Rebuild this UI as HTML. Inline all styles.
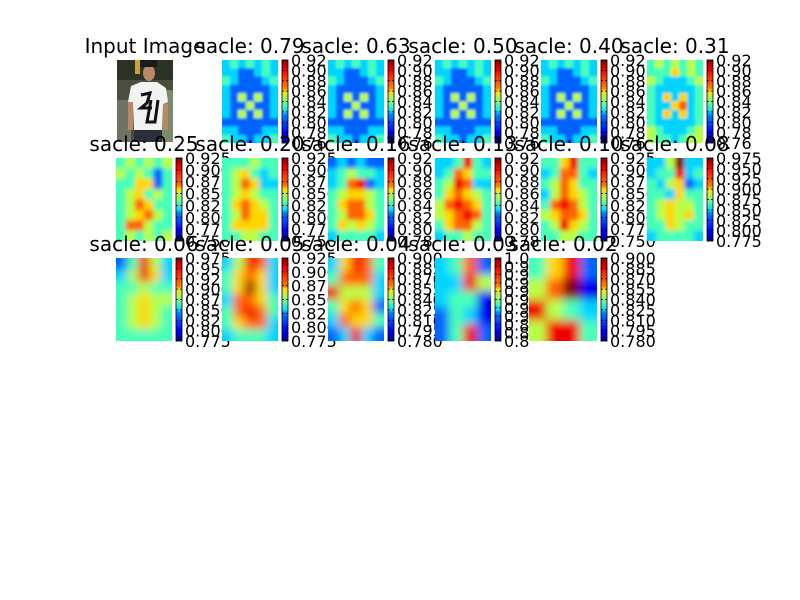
<!DOCTYPE html>
<html><head><meta charset="utf-8"><style>
html,body{margin:0;padding:0;background:#fff;}
svg{display:block;font-family:"DejaVu Sans","Liberation Sans",sans-serif;}
</style></head><body>
<svg id="fig" width="800" height="600" viewBox="0 0 800 600" xmlns="http://www.w3.org/2000/svg">
<defs>
<linearGradient id="jet" x1="0" y1="1" x2="0" y2="0">
<stop offset="0" stop-color="#00007f"/><stop offset="0.11" stop-color="#0000ff"/><stop offset="0.125" stop-color="#0000ff"/>
<stop offset="0.34" stop-color="#0080ff"/><stop offset="0.375" stop-color="#00e0ff"/><stop offset="0.5" stop-color="#7fff7f"/>
<stop offset="0.625" stop-color="#ffe000"/><stop offset="0.66" stop-color="#ff8000"/><stop offset="0.875" stop-color="#ff0000"/><stop offset="1" stop-color="#7f0000"/>
</linearGradient>
<filter id="b1" x="-20%" y="-20%" width="140%" height="140%"><feGaussianBlur stdDeviation="1.2"/></filter>
<filter id="b2" x="-20%" y="-20%" width="140%" height="140%"><feGaussianBlur stdDeviation="2.5"/></filter>
<filter id="b3" x="-20%" y="-20%" width="140%" height="140%"><feGaussianBlur stdDeviation="4.5"/></filter>
</defs>
<g id="input-panel">
<text x="145" y="53" font-size="20" text-anchor="middle">Input Image</text>
<g>
<rect x="117" y="60" width="56" height="82" fill="#4a4e3e"/>
<rect x="117" y="60" width="56" height="20" fill="#2c3226"/>
<rect x="135" y="60" width="5" height="14" fill="#c9a23c"/>
<rect x="117" y="100" width="14" height="42" fill="#707266"/>
<rect x="160" y="90" width="13" height="52" fill="#7a8a6a"/>
<ellipse cx="149" cy="73" rx="6" ry="8" fill="#b98866"/>
<rect x="140" y="60" width="17" height="7" fill="#1a1a18"/>
<path d="M131 86 L141 82 L157 82 L166 88 L168 102 L163 104 L162 130 L134 130 L133 104 L128 102 Z" fill="#f2f2f0"/>
<path d="M141 95 L150 93 L147 103 L141 108 L152 108 M151 100 L147 122 L155 122 L158 100" stroke="#111" stroke-width="3" fill="none"/>
<rect x="128" y="102" width="5" height="28" fill="#b98866"/>
<rect x="163" y="104" width="5" height="26" fill="#b98866"/>
<rect x="134" y="130" width="28" height="12" fill="#2b2f3a"/>
</g>
</g>
<g id="panels"></g>
</svg>
<script>
const titles=["0.79","0.63","0.50","0.40","0.31","0.25","0.20","0.16","0.13","0.10","0.08","0.06","0.05","0.04","0.03","0.02"];
const tickMax=[0.92,0.92,0.92,0.92,0.92,0.925,0.925,0.92,0.92,0.925,0.975,0.975,0.925,0.900,0.960,0.900];
const tickMin=[0.76,0.76,0.76,0.76,0.76,0.750,0.750,0.78,0.78,0.750,0.775,0.775,0.775,0.780,0.810,0.780];
const tickStep=[0.02,0.02,0.02,0.02,0.02,0.025,0.025,0.02,0.02,0.025,0.025,0.025,0.025,0.015,0.015,0.015];
const tickDigits=[2,2,2,2,2,3,3,2,2,3,3,3,3,3,1,3];
const g079=["3434343","3322343","4322234","3222223","3252523","3225223","3252523","2222222","3322233","4332334"];
const g031=["4545454","4446454","5433345","4333334","4363634","4336734","4363634","4333334","5433345","5443455"];
const grids=[g079,g079,g079,g079,g031,
["454545","545424","446624","456454","457644","456754","477544","454545"],
["444544","456434","457633","456544","467654","457664","466664","445544"],
["232322","345443","347823","456654","467754","457764","465654","344443"],
["334843","347644","458733","467654","578764","567874","467754","344544"],
["446844","347743","457644","357654","478754","567764","458654","445544"],
["335933","344834","435623","443644","456554","456564","446544","344443"],
["24853","35863","44544","45655","45654","45654","44444"],
["35873","46763","46963","37764","47874","46773","34443"],
["36874","47773","85553","46762","37664","23832"],
["3472","3385","3441","2431","2482"],
["4682","5791","8543","5884"]];
const NS="http://www.w3.org/2000/svg";
function jet(t){t=Math.max(0,Math.min(1,t));
 const r=Math.min(4*t-1.5,-4*t+4.5),g=Math.min(4*t-0.5,-4*t+3.5),b=Math.min(4*t+0.5,-4*t+2.5);
 const c=v=>Math.round(255*Math.max(0,Math.min(1,v)));return `rgb(${c(r)},${c(g)},${c(b)})`;}
function mk(tag,attrs,parent){const e=document.createElementNS(NS,tag);for(const k in attrs)e.setAttribute(k,attrs[k]);parent.appendChild(e);return e;}
const rowsY=[60,158,258],H=83;
const colsX=[116,222,328,435,541,647];
const root=document.getElementById('panels');
const defs=document.querySelector('defs');
for(let i=0;i<titles.length;i++){
 const slot=i+1,row=Math.floor(slot/6),col=slot%6;
 let x=colsX[col],w=56;const y=rowsY[row];
 if(i===15){x=529;w=68;}
 const g=mk('g',{},root);
 
 
 const cp=mk('clipPath',{id:'cp'+i},defs);mk('rect',{x:x,y:y,width:w,height:H},cp);
 const grid=grids[i],nr=grid.length,nc=grid[0].length;
 const hm=mk('g',{'clip-path':'url(#cp'+i+')'},g);
 
 
 const inner=mk('g',{filter:i<5?'url(#b1)':(i<11?'url(#b2)':'url(#b3)')},hm);
 const cw=w/nc,ch=H/nr;
 for(let r=-1;r<=nr;r++)for(let c=-1;c<=nc;c++){
  const rr=Math.max(0,Math.min(nr-1,r)),cc=Math.max(0,Math.min(nc-1,c));
  const v=+grid[rr][cc]/9;
  const cell=mk('rect',{x:x+c*cw,y:y+r*ch,width:cw+0.5,height:ch+0.5,fill:jet(v)},inner);
  
  
 }
 const t=mk('text',{x:x+w/2,y:y-7,'font-size':20,'text-anchor':'middle'},g);
 t.textContent='sacle: '+titles[i];
 
 
 const bx=x+w+4,bw=6;
 const cb=mk('g',{},g);
 
 
 mk('rect',{x:bx,y:y,width:bw,height:H,fill:'url(#jet)',stroke:'#000','stroke-width':0.8},cb);
 const n=Math.round((tickMax[i]-tickMin[i])/tickStep[i]);
 for(let k=0;k<=n;k++){
  const v=tickMin[i]+k*tickStep[i];
  const ty=y+H-(v-tickMin[i])/(tickMax[i]-tickMin[i])*H;
  mk('line',{x1:bx,x2:bx+2,y1:ty,y2:ty,stroke:'#000','stroke-width':0.8},cb);
  mk('line',{x1:bx+bw-2,x2:bx+bw,y1:ty,y2:ty,stroke:'#000','stroke-width':0.8},cb);
  const lb=mk('text',{x:bx+bw+3,y:ty+6,'font-size':16},cb);
  lb.textContent=v.toFixed(tickDigits[i]);
  
  
 }
}
</script>
</body></html>
